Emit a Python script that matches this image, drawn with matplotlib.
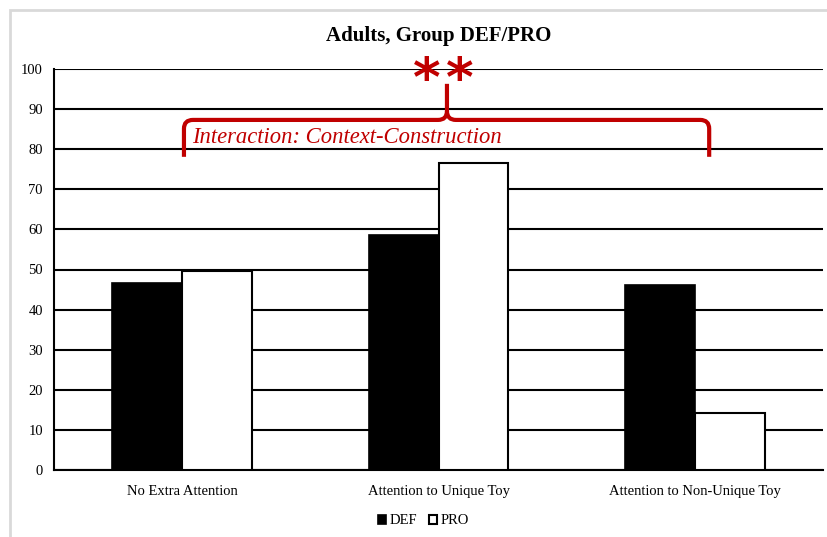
import matplotlib
matplotlib.use("Agg")
import matplotlib.pyplot as plt
from matplotlib.path import Path
from matplotlib.patches import PathPatch, Rectangle
import numpy as np

categories = ["No Extra Attention", "Attention to Unique Toy", "Attention to Non-Unique Toy"]
def_values = [46.6, 58.6, 46.1]
pro_values = [49.6, 76.6, 14.2]
series_names = ["DEF", "PRO"]
yticks = [0, 10, 20, 30, 40, 50, 60, 70, 80, 90, 100]
title = "Adults, Group DEF/PRO"
annot_text = "Interaction: Context-Construction"
star = "*"

plt.rcParams['font.family'] = ['Liberation Serif', 'DejaVu Serif']

fig = plt.figure(figsize=(8.27, 5.37), dpi=100)
fig.patches.append(Rectangle((10/827, -0.2), 2, 1.2 - 10/537, transform=fig.transFigure,
                             fill=False, edgecolor='#d9d9d9', linewidth=2))
ax = fig.add_axes([54/827, (537-470)/537, (823-54)/827, (470-69)/537])

x = np.arange(len(categories))
w = 0.273
red = '#C00000'
ax.bar(x - w/2, def_values, w, color='black', edgecolor='black', linewidth=1.2, label=series_names[0], zorder=3)
ax.bar(x + w/2, pro_values, w, color='white', edgecolor='black', linewidth=1.5, label=series_names[1], zorder=3)

ax.set_xlim(-0.5, 2.5)
ax.set_ylim(0, 100)
ax.set_yticks(yticks)
ax.yaxis.grid(True, color='black', linewidth=1.5, zorder=0)
ax.set_axisbelow(True)
for s in ['top', 'right']:
    ax.spines[s].set_visible(False)
ax.spines['left'].set_linewidth(1.5)
ax.spines['bottom'].set_linewidth(1.5)
ax.tick_params(axis='x', length=0, labelsize=10.5, pad=11)
ax.tick_params(axis='y', length=0, labelsize=10.5, pad=8)
ax.set_xticks(x)
ax.set_xticklabels(categories)

ax.set_title(title, fontsize=15, fontweight='bold', pad=20)

# brace
x0, x1, xc = 0.007, 2.056, 1.033
yb, yh, yt = 78.1, 87.3, 96.3
rx, ry = 0.035, 2.2
left = Path([(x0, yb), (x0, yh - ry), (x0, yh), (x0 + rx, yh), (xc - rx, yh), (xc, yh), (xc, yh + ry), (xc, yt)],
            [Path.MOVETO, Path.LINETO, Path.CURVE3, Path.CURVE3, Path.LINETO, Path.CURVE3, Path.CURVE3, Path.LINETO])
right = Path([(x1, yb), (x1, yh - ry), (x1, yh), (x1 - rx, yh), (xc + rx, yh), (xc, yh), (xc, yh + ry)],
             [Path.MOVETO, Path.LINETO, Path.CURVE3, Path.CURVE3, Path.LINETO, Path.CURVE3, Path.CURVE3])
for p in (left, right):
    ax.add_patch(PathPatch(p, fill=False, edgecolor=red, linewidth=3, clip_on=False, zorder=5,
                           capstyle='butt', joinstyle='round'))

ax.text(0.04, 83.0, annot_text, color=red, fontsize=16.3, fontstyle='italic', va='center', ha='left', zorder=6)
for sx in (0.955, 1.084):
    ax.text(sx, 97.0, star, color=red, fontsize=38, fontweight='bold', ha='center', va='center',
            family=['DejaVu Sans'], clip_on=False, zorder=6)

leg = ax.legend(loc='upper center', bbox_to_anchor=(0.48, -0.078), ncol=2, frameon=False, fontsize=10.5,
                handlelength=0.6, handleheight=0.6, handletextpad=0.2, columnspacing=0.8)

fig.savefig("out.png", dpi=100)
